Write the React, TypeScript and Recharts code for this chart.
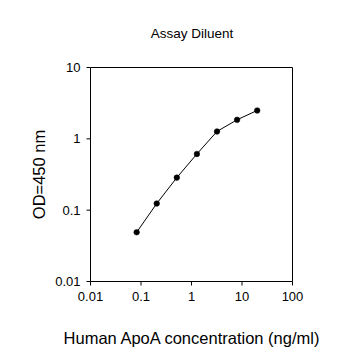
import React from "react";
import {
  LineChart,
  Line,
  XAxis,
  YAxis,
  ReferenceLine,
  Label,
} from "recharts";

// --- Data ---

const concentrations = [0.082, 0.205, 0.512, 1.28, 3.2, 8, 20];
const odValues = [0.049, 0.124, 0.286, 0.614, 1.27, 1.85, 2.5];
const xTicks = [0.01, 0.1, 1, 10, 100];
const yTicks = [0.01, 0.1, 1, 10];

const chartData = concentrations.map((conc, i) => ({
  conc,
  od: odValues[i],
}));

const FONT = "'Liberation Sans', Arial, sans-serif";

const App = () => {
  return (
    <div
      style={{
        position: "absolute",
        left: 0,
        top: 0,
        width: 358,
        height: 363,
        background: "#fff",
        fontFamily: FONT,
      }}
    >
      <svg
        width={358}
        height={50}
        style={{ position: "absolute", left: 0, top: 0 }}
      >
        <text
          x={192}
          y={38}
          textAnchor="middle"
          fontSize={13.5}
          fontFamily={FONT}
          fill="#000"
        >
          Assay Diluent
        </text>
      </svg>
      <LineChart
        width={358}
        height={363}
        data={chartData}
        margin={{ top: 67.5, right: 65.5, left: 0, bottom: 0 }}
        style={{ fontFamily: FONT }}
      >
        <XAxis
          dataKey="conc"
          type="number"
          scale="log"
          domain={[0.01, 100]}
          ticks={xTicks}
          allowDataOverflow
          height={81.5}
          tickSize={4}
          tickMargin={6}
          stroke="#000"
          tick={{ fill: "#000", fontSize: 13 }}
        >
          <Label
            value="Human ApoA concentration (ng/ml)"
            position="insideBottom"
            offset={19}
            style={{ fill: "#000", fontSize: 16.5 }}
          />
        </XAxis>
        <YAxis
          type="number"
          scale="log"
          domain={[0.01, 10]}
          ticks={yTicks}
          allowDataOverflow
          width={90.5}
          tickSize={4}
          tickMargin={6}
          stroke="#000"
          tick={{ fill: "#000", fontSize: 13 }}
        >
          <Label
            value="OD=450 nm"
            angle={-90}
            position="insideLeft"
            offset={39}
            style={{ fill: "#000", fontSize: 16.5, textAnchor: "middle" }}
          />
        </YAxis>
        <ReferenceLine y={10} stroke="#000" />
        <ReferenceLine x={100} stroke="#000" />
        <Line
          type="linear"
          dataKey="od"
          stroke="#000"
          strokeWidth={1}
          dot={{ r: 2.8, fill: "#000", stroke: "#000", strokeWidth: 0.5 }}
          isAnimationActive={false}
        />
      </LineChart>
    </div>
  );
};

export default App;
